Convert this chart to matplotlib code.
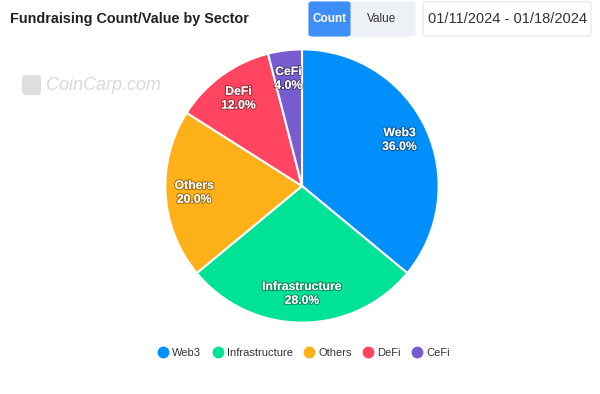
import matplotlib

matplotlib.use("Agg")

import matplotlib.pyplot as plt
import matplotlib.patheffects as pe
from matplotlib.patches import FancyBboxPatch
from matplotlib.lines import Line2D

sectors = ["Web3", "Infrastructure", "Others", "DeFi", "CeFi"]
shares = [36.0, 28.0, 20.0, 12.0, 4.0]
colors = ["#008FFB", "#00E396", "#FEB019", "#FF4560", "#775DD0"]

plt.rcParams["font.family"] = ["Liberation Sans", "DejaVu Sans"]

fig = plt.figure(figsize=(6, 3.94), dpi=100)
fig.patch.set_facecolor("white")

# header
fig.text(10 / 600, 1 - 19 / 394, "Fundraising Count/Value by Sector", fontsize=10.4,
         fontweight="bold", color="#222222", va="center", ha="left")


def box(x0, y0, x1, y1, fc, ec, r=3):
    p = FancyBboxPatch((x0 / 600, 1 - y1 / 394), (x1 - x0) / 600, (y1 - y0) / 394,
                       boxstyle=f"round,pad=0,rounding_size={r / 600}",
                       transform=fig.transFigure, fc=fc, ec=ec, lw=0.8)
    fig.patches.append(p)


box(309, 2, 415, 36, "#eef1f6", "#eef1f6")
box(309, 2, 350, 36, "#3d8ef7", "#3d8ef7")
fig.text(329.5 / 600, 1 - 19 / 394, "Count", fontsize=8.5, fontweight="bold", color="white",
         ha="center", va="center")
fig.text(382 / 600, 1 - 19 / 394, "Value", fontsize=8.5, color="#333333", ha="center", va="center")
box(423, 2, 591, 36, "white", "#e3e6ea")
fig.text(507 / 600, 1 - 19 / 394, "01/11/2024 - 01/18/2024", fontsize=10.5, color="#333333",
         ha="center", va="center")

# watermark
fig.text(46 / 600, 1 - 85 / 394, "CoinCarp.com", fontsize=13, fontstyle="italic",
         color="#d9d9d9", ha="left", va="center")
wm = FancyBboxPatch((22 / 600, 1 - 95 / 394), 19 / 600, 20 / 394,
                    boxstyle=f"round,pad=0,rounding_size={5 / 600}",
                    transform=fig.transFigure, fc="#dedede", ec="none")
fig.patches.append(wm)

# pie
ax = fig.add_axes([(302 - 138) / 600, 1 - (186 + 138) / 394, 276 / 600, 276 / 394])
wedges, texts = ax.pie(shares, colors=colors, startangle=90, counterclock=False,
                       wedgeprops=dict(edgecolor="white", linewidth=1.5),
                       labels=[f"{s}\n{v:.1f}%" for s, v in zip(sectors, shares)],
                       labeldistance=0.79)
for t in texts:
    t.set_color("white")
    t.set_fontsize(8.8)
    t.set_fontweight("bold")
    t.set_ha("center")
    t.set_va("center")
    t.set_multialignment("center")
    t.set_linespacing(1.2)
    t.set_path_effects([pe.withStroke(linewidth=1.6, foreground=(0, 0, 0, 0.35))])
ax.set_xlim(-1.01, 1.01)
ax.set_ylim(-1.01, 1.01)
ax.set_aspect("equal")
ax.axis("off")

# legend
handles = [Line2D([], [], marker="o", ls="none", markersize=7.5, markerfacecolor=c,
                  markeredgecolor=c) for c in colors]
fig.legend(handles, sectors, loc="center", bbox_to_anchor=(302 / 600, 1 - 353 / 394),
           ncol=5, frameon=False, fontsize=8, handletextpad=0.0, columnspacing=0.7,
           handlelength=1.6, labelcolor="#333333")

fig.savefig("out.png", dpi=100, facecolor="white")
